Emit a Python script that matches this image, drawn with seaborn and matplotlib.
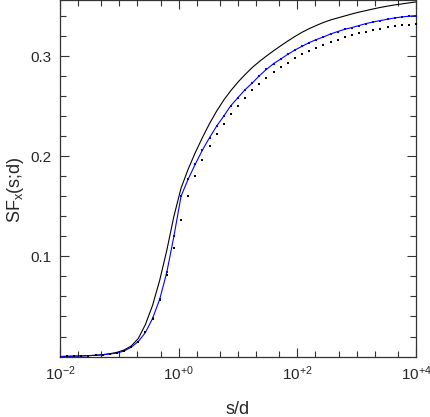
import numpy as np
import pandas as pd
import matplotlib
matplotlib.use("Agg")
import matplotlib.pyplot as plt
from matplotlib.ticker import FixedLocator, FuncFormatter
import seaborn as sns

# log10(s/d) grid shared by all three series
log_sd = [-2.00, -1.88, -1.76, -1.64, -1.52, -1.40, -1.28, -1.16, -1.04, -0.92,
          -0.80, -0.68, -0.56, -0.44, -0.32, -0.20, -0.08, 0.04, 0.16, 0.28,
          0.40, 0.52, 0.64, 0.76, 0.88, 1.00, 1.12, 1.24, 1.36, 1.48,
          1.60, 1.72, 1.84, 1.96, 2.08, 2.20, 2.32, 2.44, 2.56, 2.68,
          2.80, 2.92, 3.04, 3.16, 3.28, 3.40, 3.52, 3.64, 3.76, 3.88, 4.00]

# solid black curve
sf_black_line = [0.0000, 0.0002, 0.0004, 0.0006, 0.0009, 0.0013, 0.0019, 0.0028, 0.0042, 0.0065,
                 0.0105, 0.018, 0.032, 0.051, 0.076, 0.106, 0.140, 0.168, 0.187, 0.2035,
                 0.2185, 0.2325, 0.245, 0.256, 0.2655, 0.274, 0.2815, 0.2885, 0.2945, 0.300,
                 0.3052, 0.3102, 0.315, 0.3195, 0.3237, 0.3273, 0.3305, 0.3335, 0.336, 0.338,
                 0.340, 0.342, 0.3438, 0.3454, 0.347, 0.3485, 0.3498, 0.351, 0.352, 0.353, 0.354]

# blue curve with dots
sf_blue = [0.0000, 0.0002, 0.0004, 0.0006, 0.0009, 0.0012, 0.0017, 0.0025, 0.0035, 0.0055,
           0.0093, 0.015, 0.024, 0.038, 0.057, 0.084, 0.120, 0.160, 0.177, 0.192,
           0.206, 0.2185, 0.230, 0.240, 0.2505, 0.2585, 0.2664, 0.273, 0.2803, 0.2867,
           0.2924, 0.297, 0.3017, 0.306, 0.3097, 0.3134, 0.3164, 0.319, 0.322, 0.3244,
           0.3267, 0.3284, 0.3304, 0.3324, 0.334, 0.3354, 0.3367, 0.338, 0.339, 0.3397, 0.3404]

# black dots
sf_black_dots = [0.0000, 0.0002, 0.0004, 0.0006, 0.0008, 0.0011, 0.0015, 0.0022, 0.0032, 0.0053,
                 0.0093, 0.015, 0.024, 0.0378, 0.0566, 0.0813, 0.108, 0.1363, 0.160, 0.180,
                 0.196, 0.210, 0.2218, 0.2325, 0.242, 0.2505, 0.2585, 0.266, 0.2725, 0.2785,
                 0.284, 0.289, 0.293, 0.2977, 0.3017, 0.3054, 0.3084, 0.311, 0.3137, 0.3164,
                 0.3187, 0.321, 0.3227, 0.3244, 0.326, 0.3274, 0.329, 0.330, 0.331, 0.3314, 0.332]

x_major = [1e-2, 1e0, 1e2, 1e4]
y_major = [0.1, 0.2, 0.3]

df = pd.DataFrame({
    "sd": 10.0 ** np.array(log_sd),
    "black_line": sf_black_line,
    "blue": sf_blue,
    "black_dots": sf_black_dots,
})

sns.set_style("ticks")
plt.rcParams["font.family"] = ["Liberation Sans", "DejaVu Sans"]
plt.rcParams["mathtext.fontset"] = "custom"
plt.rcParams["mathtext.rm"] = "Liberation Sans"

fig = plt.figure(figsize=(4.30, 4.17), dpi=100)
ax = fig.add_axes([0.1395, 0.145, 0.8279, 0.854])

sns.lineplot(data=df, x="sd", y="black_line", color="black", linewidth=0.8, ax=ax)
sns.lineplot(data=df, x="sd", y="blue", color="#0000ff", linewidth=0.8, ax=ax)
sns.scatterplot(data=df, x="sd", y="blue", color="#0000ff", marker="s", s=4,
                linewidth=0, ax=ax, zorder=3)
sns.scatterplot(data=df, x="sd", y="black_dots", color="black", marker="s", s=4,
                linewidth=0, ax=ax, zorder=4)

ax.set_xscale("log")
ax.set_xlim(1e-2, 1e4)
ax.set_ylim(0, 0.3555)

# x ticks: labelled at even decades, minor at 1, 2, 5 of every decade
minor_x = []
for e in range(-2, 4):
    for m in (1, 2, 5):
        v = m * 10.0 ** e
        if v not in x_major:
            minor_x.append(v)
ax.xaxis.set_major_locator(FixedLocator(x_major))
ax.xaxis.set_minor_locator(FixedLocator(minor_x))
ax.xaxis.set_major_formatter(FuncFormatter(
    lambda v, p: r"$\mathregular{10^{%+d}}$" % int(round(np.log10(v)))))
ax.xaxis.set_minor_formatter(FuncFormatter(lambda v, p: ""))

ax.yaxis.set_major_locator(FixedLocator(y_major))
ax.yaxis.set_minor_locator(FixedLocator([0.02, 0.04, 0.06, 0.08, 0.12, 0.14, 0.16, 0.18,
                                         0.22, 0.24, 0.26, 0.28, 0.32, 0.34]))
ax.yaxis.set_major_formatter(FuncFormatter(lambda v, p: "%.1f" % v))

ax.tick_params(which="both", direction="in", top=True, right=True, color="#333333",
               width=0.8, labelsize=11, pad=6)
ax.tick_params(which="major", length=6.5)
ax.tick_params(which="minor", length=4.5)
for sp in ax.spines.values():
    sp.set_linewidth(0.9)
    sp.set_color("#333333")

ax.set_xlabel("s/d", fontsize=13)
ax.set_ylabel(r"SF$_\mathregular{x}$(s;d)", fontsize=13)
ax.xaxis.set_label_coords(0.5, -0.125)
ax.yaxis.set_label_coords(-0.095, 0.47)

fig.savefig("out.png", dpi=100)
